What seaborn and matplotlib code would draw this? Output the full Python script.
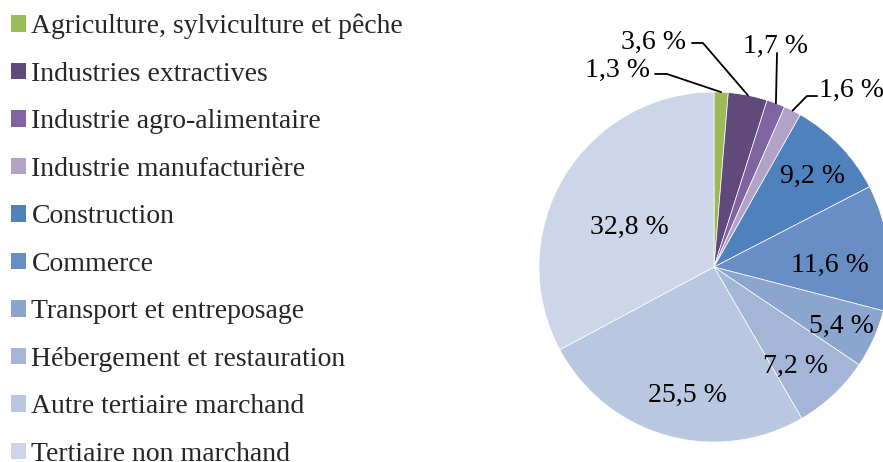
import numpy as np
import matplotlib.pyplot as plt
from matplotlib.patches import Patch
import seaborn as sns

# ─── Data ────────────────────────────────────────────────────────────────────
sectors = [
    "Agriculture, sylviculture et pêche",
    "Industries extractives",
    "Industrie agro-alimentaire",
    "Industrie manufacturière",
    "Construction",
    "Commerce",
    "Transport et entreposage",
    "Hébergement et restauration",
    "Autre tertiaire marchand",
    "Tertiaire non marchand",
]
shares = [1.3, 3.6, 1.7, 1.6, 9.2, 11.6, 5.4, 7.2, 25.5, 32.8]
colors = ["#9BBB59", "#604A7B", "#8064A2", "#B3A2C7", "#4F81BD",
          "#688EC3", "#8BA5CE", "#A4B6D8", "#B9C7E1", "#CDD6E8"]
pct_labels = [f"{v:.1f} %".replace(".", ",") for v in shares]

# label positions (pie units, radius = 1)
inside_pos = {4: (0.56, 0.537), 5: (0.663, 0.029), 6: (0.731, -0.32),
              7: (0.463, -0.549), 8: (-0.154, -0.714), 9: (-0.486, 0.246)}
# small slices: text position, elbow of the leader line, start of the line
outside_pos = {0: ((-0.55, 1.143), (-0.269, 1.103), (-0.337, 1.103)),
               1: ((-0.343, 1.303), (-0.063, 1.28), (-0.126, 1.28)),
               2: ((0.354, 1.28), (0.36, 1.223), (0.36, 1.223)),
               3: ((0.783, 1.029), (0.531, 0.977), (0.589, 0.977))}

# ─── Style ───────────────────────────────────────────────────────────────────
sns.set_theme(style="white")
plt.rcParams["font.family"] = ["Liberation Serif", "DejaVu Serif"]
FS = 20

fig = plt.figure(figsize=(8.83, 4.62), dpi=100)
ax = fig.add_axes([539 / 883, 20 / 462, 350 / 883, 350 / 462])

wedges, _ = ax.pie(shares, colors=colors, startangle=90, counterclock=False,
                   radius=1, wedgeprops=dict(edgecolor="white", linewidth=0.5))
ax.set_xlim(-1, 1)
ax.set_ylim(-1, 1)
ax.set_aspect("equal")
ax.axis("off")

for i, (x, y) in inside_pos.items():
    ax.text(x, y, pct_labels[i], ha="center", va="center_baseline",
            fontsize=FS, color="black")

for i, (txt, elbow, start) in outside_pos.items():
    w = wedges[i]
    mid = np.deg2rad((w.theta1 + w.theta2) / 2)
    edge = (np.cos(mid), np.sin(mid))
    ax.plot([start[0], elbow[0], edge[0]], [start[1], elbow[1], edge[1]],
            color="black", lw=1.3, clip_on=False)
    ax.text(txt[0], txt[1], pct_labels[i], ha="center", va="center_baseline",
            fontsize=FS, color="black", clip_on=False)

handles = [Patch(facecolor=c, edgecolor="none") for c in colors]
fig.legend(handles, sectors, loc="upper left", bbox_to_anchor=(0.0057, 0.982),
           frameon=False, fontsize=FS, handlelength=0.55, handleheight=0.55,
           handletextpad=0.2, labelspacing=0.81, borderaxespad=0,
           borderpad=0.2)

fig.savefig("out.png", dpi=100)
